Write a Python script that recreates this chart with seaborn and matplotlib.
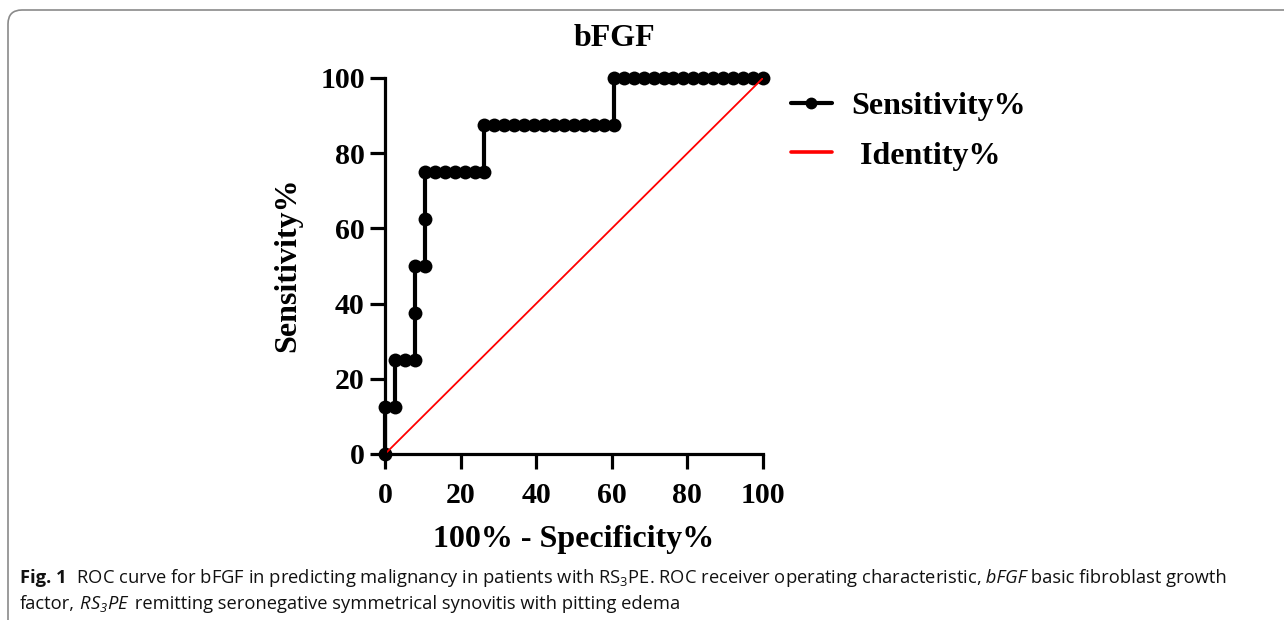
import matplotlib
matplotlib.use("Agg")
import matplotlib.pyplot as plt
import seaborn as sns
from matplotlib.lines import Line2D
from matplotlib.patches import FancyBboxPatch

# ROC points (100% - specificity %, sensitivity %)
fpr = [0, 0, 2.63, 2.63, 5.26, 7.89, 7.89, 7.89, 10.53, 10.53,
       10.53, 13.16, 15.79, 18.42, 21.05, 23.68, 26.32,
       26.32, 28.95, 31.58, 34.21, 36.84, 39.47, 42.11, 44.74, 47.37,
       50.0, 52.63, 55.26, 57.89, 60.53,
       60.53, 63.16, 65.79, 68.42, 71.05, 73.68, 76.32, 78.95, 81.58,
       84.21, 86.84, 89.47, 92.11, 94.74, 97.37, 100]
sensitivity = [0, 12.5, 12.5, 25, 25, 25, 37.5, 50, 50, 62.5,
               75, 75, 75, 75, 75, 75, 75,
               87.5, 87.5, 87.5, 87.5, 87.5, 87.5, 87.5, 87.5, 87.5,
               87.5, 87.5, 87.5, 87.5, 87.5,
               100, 100, 100, 100, 100, 100, 100, 100, 100,
               100, 100, 100, 100, 100, 100, 100]
identity_x = [0, 100]
identity_y = [0, 100]
ticks = [0, 20, 40, 60, 80, 100]

sns.set_theme(style="ticks")
plt.rcParams["font.family"] = ["Liberation Serif", "DejaVu Serif"]
plt.rcParams["font.weight"] = "bold"
plt.rcParams["text.color"] = "black"
plt.rcParams["axes.labelcolor"] = "black"

W, H = 1284, 620
fig = plt.figure(figsize=(W / 100, H / 100), dpi=100)
ax = fig.add_axes([385 / W, 1 - 454 / H, 378 / W, 376 / H])

sns.lineplot(x=fpr, y=sensitivity, sort=False, estimator=None, ax=ax,
             color="black", linewidth=3, marker="o", markersize=10,
             markeredgewidth=0, legend=False, clip_on=False)
sns.lineplot(x=identity_x, y=identity_y, ax=ax, color="#ff0000",
             linewidth=1.3, legend=False)

ax.set_xlim(0, 100)
ax.set_ylim(0, 100)
ax.set_xticks(ticks)
ax.set_yticks(ticks)
for side in ["top", "right"]:
    ax.spines[side].set_visible(False)
for side in ["left", "bottom"]:
    ax.spines[side].set_linewidth(2.3)
    ax.spines[side].set_color("black")
ax.tick_params(direction="out", length=10.5, width=2.3, colors="black",
               labelsize=21.5)
ax.tick_params(axis="x", pad=10)
ax.tick_params(axis="y", pad=4)
for lbl in ax.get_xticklabels() + ax.get_yticklabels():
    lbl.set_fontweight("bold")
ax.set_xlabel("")
ax.set_ylabel("")

fig.text(574 / W, 1 - 540 / H, "100% - Specificity%", ha="center",
         va="center", fontsize=23, fontweight="bold")
fig.text(288 / W, 1 - 265 / H, "Sensitivity%", ha="center", va="center",
         rotation=90, fontsize=23, fontweight="bold")
fig.text(614 / W, 1 - 38 / H, "bFGF", ha="center", va="center",
         fontsize=23, fontweight="bold")

handles = [
    Line2D([], [], color="black", linewidth=3, marker="o", markersize=7.5),
    Line2D([], [], color="#ff0000", linewidth=2.6),
]
fig.legend(handles, ["Sensitivity%", " Identity%"], loc="upper left",
           bbox_to_anchor=(791 / W, 1 - 92 / H), frameon=False,
           borderpad=0, borderaxespad=0,
           prop={"family": "Liberation Serif", "weight": "bold", "size": 23},
           handlelength=1.28, handletextpad=0.62, labelspacing=0.62)

# rounded frame around the figure panel
frame = FancyBboxPatch((8, -60), 1400, H - 10 + 60,
                       boxstyle="round,pad=0,rounding_size=14",
                       transform=None, facecolor="none",
                       edgecolor="#8a8a8a", linewidth=1.2, clip_on=False)
fig.add_artist(frame)

# caption with mixed styles
cap_font = ["Open Sans", "DejaVu Sans"]
cap_size = 13.2
renderer = fig.canvas.get_renderer()


def put_run(x_px, y_px, pieces):
    for text, style, weight in pieces:
        t = fig.text(x_px / W, 1 - y_px / H, text, ha="left", va="baseline",
                     family=cap_font, fontsize=cap_size, fontstyle=style,
                     fontweight=weight, color="#111111")
        bb = t.get_window_extent(renderer)
        x_px = bb.x1


put_run(20, 583, [
    ("Fig. 1", "normal", "bold"),
    ("  ROC curve for bFGF in predicting malignancy in patients with "
     "RS$_\\mathregular{3}$PE. ROC receiver operating characteristic,",
     "normal", "normal"),
    (" bFGF", "italic", "normal"),
    (" basic fibroblast growth", "normal", "normal"),
])
put_run(20, 609, [
    ("factor,", "normal", "normal"),
    (" RS$_\\mathregular{3}$PE", "italic", "normal"),
    (" remitting seronegative symmetrical synovitis with pitting edema",
     "normal", "normal"),
])

fig.savefig("out.png", dpi=100)
